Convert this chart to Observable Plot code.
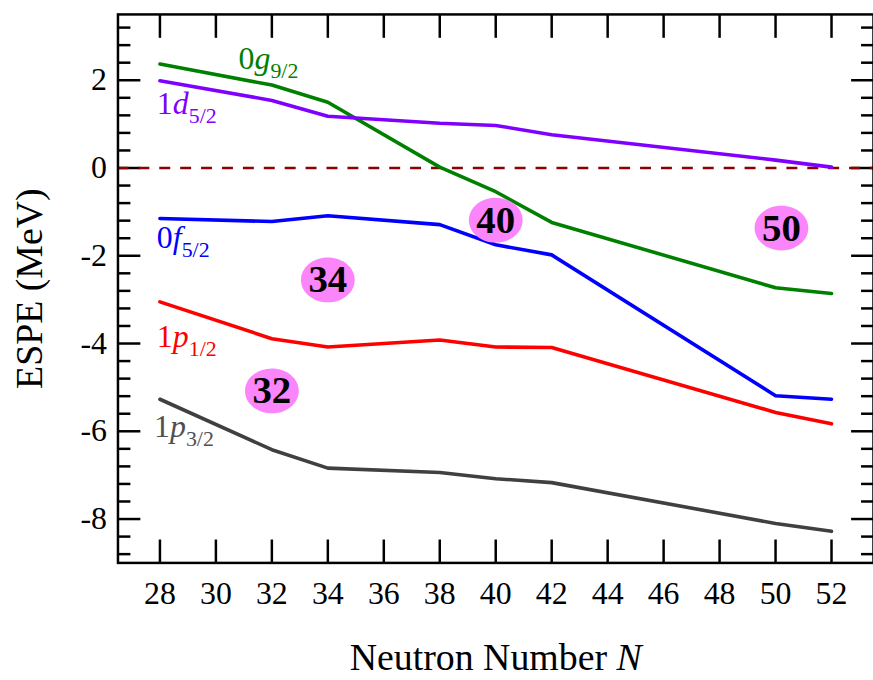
<!DOCTYPE html>
<html><head><meta charset="utf-8">
<script src="https://cdn.jsdelivr.net/npm/d3@7"></script>
<script src="https://cdn.jsdelivr.net/npm/@observablehq/plot@0.6"></script>
<style>
html,body{margin:0;padding:0;overflow:hidden;background:#fff;}
#chart{width:873px;height:680px;overflow:hidden;}
</style></head><body><div id="chart"></div>
<script>
// Neutron numbers
const N = [28, 32, 34, 38, 40, 42, 50, 52];
// ESPE values (MeV)
const g92 = [2.37, 1.89, 1.50, 0.02, -0.54, -1.24, -2.73, -2.86];
const d52 = [1.99, 1.54, 1.18, 1.02, 0.97, 0.76, 0.18, 0.02];
const f52 = [-1.15, -1.22, -1.09, -1.29, -1.75, -1.98, -5.19, -5.27];
const p12 = [-3.05, -3.89, -4.08, -3.92, -4.08, -4.09, -5.57, -5.83];
const p32 = [-5.27, -6.42, -6.84, -6.94, -7.08, -7.17, -8.10, -8.28];
const seriesVals = [g92, d52, f52, p12, p32];
const seriesColors = ["#008000", "#8000ff", "#0000ff", "#ff0000", "#404040"];

// orbital labels
const labN = ["0", "1", "0", "1", "1"];
const labL = ["g", "d", "f", "p", "p"];
const labJ = ["9/2", "5/2", "5/2", "1/2", "3/2"];
const labX = [30.81, 27.89, 27.89, 27.89, 27.79];
const labY = [2.26, 1.24, -1.82, -4.07, -6.14];
const labColors = ["#008000", "#8000ff", "#0000ff", "#ff0000", "#505050"];

// magic-number bubbles
const magicText = ["32", "34", "40", "50"];
const magicX = [32, 34, 40, 50.21];
const magicY = [-5.08, -2.55, -1.19, -1.37];

// ticks
const xTicks = [28, 30, 32, 34, 36, 38, 40, 42, 44, 46, 48, 50, 52];
const yMajor = [-8, -6, -4, -2, 0, 2];
const yMinor = [-8.8, -8.4, -7.6, -7.2, -6.8, -6.4, -5.6, -5.2, -4.8, -4.4, -3.6, -3.2, -2.8, -2.4,
  -1.6, -1.2, -0.8, -0.4, 0.4, 0.8, 1.2, 1.6, 2.4, 2.8, 3.2];

const rows = [];
seriesVals.forEach((vals, s) => vals.forEach((v, i) => rows.push({N: N[i], E: vals[i], s})));
const labels = labN.map((n, i) => ({x: labX[i], y: labY[i], text: n + labL[i] + labJ[i], i}));
const magic = magicText.map((t, i) => ({x: magicX[i], y: magicY[i], t}));

const SVGNS = "http://www.w3.org/2000/svg";
function fillParts(t, parts) {
  while (t.firstChild) t.removeChild(t.firstChild);
  for (const p of parts) {
    const ts = document.createElementNS(SVGNS, "tspan");
    ts.textContent = p.text;
    if (p.italic) ts.setAttribute("font-style", "italic");
    if (p.size) ts.setAttribute("font-size", p.size);
    if (p.dy) ts.setAttribute("dy", p.dy);
    t.appendChild(ts);
  }
}
function orbitalRender(index, scales, values, dims, ctx, next) {
  const g = next(index, scales, values, dims, ctx);
  g.querySelectorAll("text").forEach((t) => {
    const i = t.__data__;
    fillParts(t, [
      {text: labN[i]},
      {text: labL[i], italic: true},
      {text: labJ[i], size: 22, dy: 9}
    ]);
  });
  return g;
}
function xLabelRender(index, scales, values, dims, ctx, next) {
  const g = next(index, scales, values, dims, ctx);
  g.querySelectorAll("text").forEach((t) => {
    fillParts(t, [{text: "Neutron Number "}, {text: "N", italic: true}]);
  });
  return g;
}

const ellipse = {
  draw(c, size) {
    const r = Math.sqrt(size / Math.PI), rx = r * 1.2, ry = r, k = 0.5523;
    c.moveTo(rx, 0);
    c.bezierCurveTo(rx, ry * k, rx * k, ry, 0, ry);
    c.bezierCurveTo(-rx * k, ry, -rx, ry * k, -rx, 0);
    c.bezierCurveTo(-rx, -ry * k, -rx * k, -ry, 0, -ry);
    c.bezierCurveTo(rx * k, -ry, rx, -ry * k, rx, 0);
    c.closePath();
  }
};

const tickOpts = {tickFormat: () => "", label: null, strokeWidth: 2.5, stroke: "#000"};

const marks = [
  Plot.axisX(xTicks, {anchor: "bottom", tickSize: -23, ...tickOpts}),
  Plot.axisX(xTicks, {anchor: "top", tickSize: -23, ...tickOpts}),
  Plot.axisY(yMajor, {anchor: "left", tickSize: -23, ...tickOpts}),
  Plot.axisY(yMinor, {anchor: "left", tickSize: -13, ...tickOpts}),
  Plot.axisY(yMajor, {anchor: "right", tickSize: -23, ...tickOpts}),
  Plot.axisY(yMinor, {anchor: "right", tickSize: -13, ...tickOpts}),
  Plot.axisX(xTicks, {anchor: "bottom", tickSize: 0, tickPadding: 19, label: null, tickFormat: d => String(d), fontSize: 32, fill: "#000"}),
  Plot.axisY(yMajor, {anchor: "left", tickSize: 0, tickPadding: 11, label: null, tickFormat: d => String(d), fontSize: 32, fill: "#000"}),
  Plot.ruleY([0], {stroke: "#8b0000", strokeWidth: 2.5, strokeDasharray: "11,10"}),
  ...seriesVals.map((_, s) => Plot.line(rows.filter(r => r.s === s), {x: "N", y: "E", stroke: seriesColors[s], strokeWidth: 3.6})),
  Plot.text(labels, {x: "x", y: "y", text: "text", fill: (d) => labColors[d.i], textAnchor: "start", lineAnchor: "bottom", fontSize: 32, render: orbitalRender}),
  Plot.dot(magic, {x: "x", y: "y", r: 22.5, symbol: ellipse, fill: "#fb85fb", stroke: "none"}),
  Plot.text(magic, {x: "x", y: "y", text: "t", fontSize: 39, fontWeight: "bold", fill: "#000", lineAnchor: "middle"}),
  Plot.text(["ESPE (MeV)"], {frameAnchor: "left", dx: -76, rotate: -90, textAnchor: "middle", lineAnchor: "bottom", fontSize: 38, fill: "#000"}),
  Plot.text(["Neutron Number N"], {frameAnchor: "bottom", dy: 108, textAnchor: "middle", lineAnchor: "bottom", fontSize: 38, fill: "#000", render: xLabelRender}),
  Plot.frame({stroke: "#000", strokeWidth: 2.5})
];

const chart = Plot.plot({
  width: 877,
  height: 680,
  marginLeft: 118,
  marginRight: 0,
  marginTop: 14,
  marginBottom: 115,
  x: {domain: [26.5, 53.5]},
  y: {domain: [-9, 3.5]},
  color: {type: "identity"},
  style: {fontFamily: "'Liberation Serif', 'Times New Roman', serif", fontSize: "32px", background: "#fff", overflow: "visible"},
  marks
});
document.getElementById("chart").appendChild(chart);
</script>
</body></html>
